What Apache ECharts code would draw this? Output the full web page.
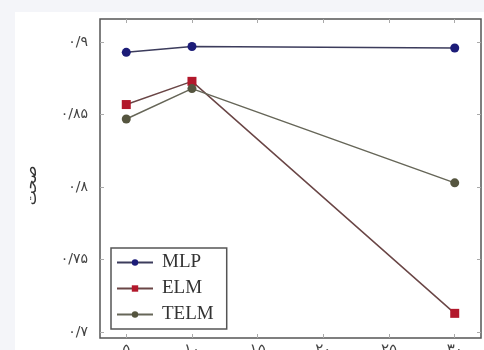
<!DOCTYPE html>
<html>
<head>
<meta charset="utf-8">
<script src="https://cdn.jsdelivr.net/npm/echarts@6/dist/echarts.min.js"></script>
<style>
    html, body { margin: 0; padding: 0; background: #f4f5f9; }
    #chart { width: 484px; height: 350px; }
</style>
</head>
<body>
<div id="chart"></div>
<script>
// x positions and their labels
var xValues = [1, 2, 3, 4, 5, 6];
var xLabels = ['۵', '۱۰', '۱۵', '۲۰', '۲۵', '۳۰'];
var yTicks = [0.7, 0.75, 0.8, 0.85, 0.9];
var yLabels = ['۰/۷', '۰/۷۵', '۰/۸', '۰/۸۵', '۰/۹'];

// measured points (x index, accuracy)
var mlpX = [1, 2, 6];
var mlpY = [0.893, 0.897, 0.896];
var elmX = [1, 2, 6];
var elmY = [0.857, 0.873, 0.713];
var telmX = [1, 2, 6];
var telmY = [0.847, 0.868, 0.803];

function pairs(xs, ys) {
    return xs.map(function (x, i) { return [x, ys[i]]; });
}

var myChart = echarts.init(document.getElementById('chart'));

var tickStyle = { inside: true, length: 4, lineStyle: { color: '#aaa' } };

var option = {
    backgroundColor: '#f4f5f9',
    animation: false,
    graphic: [{
        type: 'rect',
        shape: { x: 15, y: 12, width: 469, height: 338 },
        style: { fill: '#fff' },
        z: -10
    }],
    legend: {
        left: 111,
        top: 248,
        orient: 'vertical',
        itemGap: 7,
        itemWidth: 36,
        itemHeight: 8,
        padding: [5, 13, 5, 5],
        borderColor: '#555',
        borderWidth: 1.5,
        backgroundColor: '#fff',
        textStyle: { fontFamily: 'Liberation Serif', fontSize: 19, color: '#333', padding: [0, 0, 0, 4] },
        data: ['MLP', 'ELM', 'TELM']
    },
    grid: {
        left: 100,
        top: 19,
        right: 3,
        bottom: 12,
        outerBoundsMode: 'none',
        containLabel: false,
        show: true,
        borderColor: '#555',
        borderWidth: 1.5,
        backgroundColor: '#fff'
    },
    xAxis: [{
        type: 'value',
        min: 0.6,
        max: 6.4,
        axisLine: { show: false },
        splitLine: { show: false },
        axisTick: Object.assign({ customValues: xValues }, tickStyle),
        axisLabel: {
            customValues: xValues,
            margin: 5,
            fontFamily: 'DejaVu Sans',
            fontSize: 15,
            color: '#444',
            formatter: function (v) { return xLabels[xValues.indexOf(v)]; }
        }
    }, {
        type: 'value',
        position: 'top',
        min: 0.6,
        max: 6.4,
        axisLine: { show: false },
        splitLine: { show: false },
        axisTick: Object.assign({ customValues: xValues }, tickStyle),
        axisLabel: { show: false }
    }],
    yAxis: [{
        type: 'value',
        min: 0.696,
        max: 0.916,
        name: 'صحت',
        nameLocation: 'middle',
        nameRotate: 90,
        nameGap: 60,
        nameTextStyle: { fontFamily: 'DejaVu Sans', fontSize: 16, color: '#333', padding: [0, 14, 0, 0] },
        axisLine: { show: false },
        splitLine: { show: false },
        axisTick: Object.assign({ customValues: yTicks }, tickStyle),
        axisLabel: {
            customValues: yTicks,
            margin: 12,
            fontFamily: 'DejaVu Sans',
            fontSize: 14,
            color: '#444',
            formatter: function (v) {
                for (var i = 0; i < yTicks.length; i++) {
                    if (Math.abs(yTicks[i] - v) < 1e-6) return yLabels[i];
                }
                return '';
            }
        }
    }, {
        type: 'value',
        position: 'right',
        min: 0.696,
        max: 0.916,
        axisLine: { show: false },
        splitLine: { show: false },
        axisTick: Object.assign({ customValues: yTicks }, tickStyle),
        axisLabel: { show: false }
    }],
    series: [{
        name: 'MLP',
        type: 'line',
        symbol: 'circle',
        symbolSize: 9,
        itemStyle: { color: '#1c1c78' },
        lineStyle: { color: '#3c3c5c', width: 1.5 },
        data: pairs(mlpX, mlpY)
    }, {
        name: 'ELM',
        type: 'line',
        symbol: 'rect',
        symbolSize: 9,
        itemStyle: { color: '#b2182b' },
        lineStyle: { color: '#6a4646', width: 1.5 },
        data: pairs(elmX, elmY)
    }, {
        name: 'TELM',
        type: 'line',
        symbol: 'circle',
        symbolSize: 9,
        itemStyle: { color: '#55553f' },
        lineStyle: { color: '#666658', width: 1.5 },
        data: pairs(telmX, telmY)
    }]
};

myChart.setOption(option);
</script>
</body>
</html>
